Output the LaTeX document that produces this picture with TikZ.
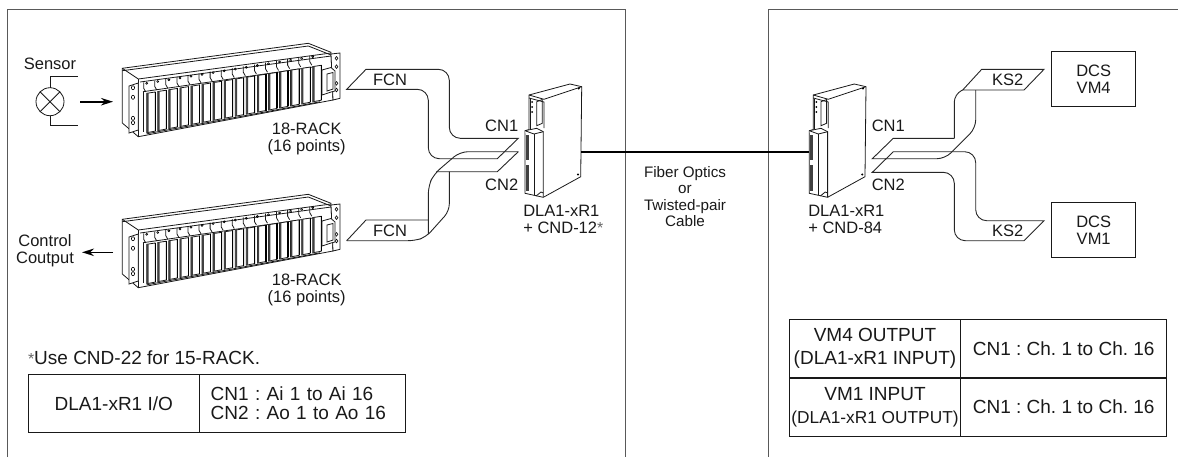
\documentclass[tikz,border=0pt]{standalone}
\usepackage{fontspec}
\usetikzlibrary{arrows.meta}
\setmainfont{Liberation Sans}
\frenchspacing
\newcommand{\labelfont}{\fontsize{16.5}{17}\selectfont}
\newcommand{\tablefont}{\fontsize{19}{18.5}\selectfont}
\newcommand{\starmark}{{\color{black!60}\fontsize{16}{16}\selectfont\raisebox{0.5pt}{*}}}

\begin{document}
\begin{tikzpicture}[
		x=1pt, y=-1pt,
		%Option for nice arrows
		>={Stealth[length=12pt,width=7.5pt]}, %
		inner sep=0pt, outer sep=0pt,%
		frameline/.style={line width=1pt,color=black!65},
		ribbon/.style={line width=0.9pt,color=black!85},
		flow/.style={line width=1.6pt,->},
		thinline/.style={line width=0.8pt,color=black!90},
		txt/.style={font=\labelfont,color=black!90,align=center},
		cell/.style={draw,line width=1pt,color=black!90,text=black!90,font=\tablefont,align=center},
		rack/.pic={
			% Chassis
			\draw[thinline,fill=white] (122.3,68.3) -- (308.3,43.3) -- (331,52.3) -- (333,100) -- (138.3,136.7) -- (122.3,123) -- cycle;
			\draw[thinline] (122.3,70.7) -- (308.3,46) -- (331,55);
			\draw[thinline] (122.3,68.3) -- (138.3,79) -- (331,53);
			\draw[thinline] (140,82) -- (331,56);
			\draw[thinline] (143,91.7) -- (320,66);
			\draw[thinline] (138.3,79) -- (138.3,136.7);
			\draw[thinline] (146.7,133.8) -- (320,101.8);
			% Ears
			\draw[thinline,fill=white] (129,86) -- (138.3,83) -- (138.3,130) -- (129,133) -- cycle;
			\draw[thinline,fill=white] (331,54) -- (340,53) -- (340,98.3) -- (333,100) -- cycle;
			\foreach \holey in {87.7,97.3,118.3,122.7}
				\draw[line width=0.6pt] (133,\holey) ellipse (1.6 and 2);
			\foreach \holey in {58.3,66.7,83.3,90}
				\draw[line width=0.6pt] (336.5,\holey) ellipse (1.4 and 1.8);
			% Cards
			\foreach \i in {0,...,15} {
				\pgfmathsetmacro{\cx}{146.7+11.07*\i}
				\pgfmathsetmacro{\ct}{93.3-1.78*\i}
				\pgfmathsetmacro{\cb}{132.7-2.06*\i}
				\draw[thinline,fill=white] (\cx,\ct) -- ++(8.5,-1.3) -- (\cx+8.5,\cb-1.6) -- (\cx,\cb) -- cycle;
				\fill[black!75] (\cx,\ct) -- ++(1.8,-0.3) -- (\cx+1.8,\cb-0.4) -- (\cx,\cb) -- cycle;
				\draw[line width=1.2pt] (\cx+8.5,\ct-1.3) -- (\cx+8.5,\cb-1.6);
				\draw[thinline] (\cx-3,\ct-11) -- (\cx-3,\ct-5) -- (\cx-1,\ct-1.5);
				\draw[line width=0.6pt] (\cx,\ct-10) circle (1);
			}
			\draw[thinline] (143,91.7) -- (143,132);
			% Plug
			\draw[thinline,fill=white] (322,70) -- (331,67.5) -- (335,71) -- (335,91) -- (331,92) -- (322,95) -- cycle;
			\draw[thinline] (327,74) -- (333,72.5) -- (333,89) -- (327,91) -- cycle;
		},
		dla/.pic={
			% Body
			\draw[thinline,fill=white] (529,95) -- (570,84) -- (581.7,86.7) -- (580.7,176.7) -- (543.3,197.3) -- (525,193.3) -- (525,130.7) -- (529,129.7) -- cycle;
			\draw[thinline] (529,95) -- (544,99.3) -- (581.7,86.7);
			\draw[thinline] (529,98) -- (544,102) -- (544,128);
			\draw[thinline] (530,99) -- (530,129);
			% Window and leds
			\draw[thinline] (536.7,101.7) -- (542.3,99.5) -- (542.3,123.3) -- (536.7,125.7) -- cycle;
			\fill (532,102) circle (1) (532,107) circle (1) (532,112) circle (1);
			% Lower block
			\draw[thinline,fill=white] (525,130.7) -- (536.7,128.3) -- (543.3,131.7) -- (543.3,197.3);
			\draw[thinline] (525,130.7) -- (534,134) -- (543.3,131.7);
			\draw[thinline] (534,134) -- (534,195);
			\fill[black!75] (526,135) rectangle (528.5,160);
			\fill[black!75] (526,165) rectangle (528.5,191);
			\draw[thinline] (536,196) -- (541,192) -- (543.3,193);
			\fill (578.7,88.5) circle (1.1) (578,174.5) circle (1.1);
		},
	]
		\useasboundingbox (0,0) rectangle (1178,459);

		% Frames
		\draw[frameline] (7,457) -- (7,9) -- (625,9) -- (625,457);
		\draw[frameline] (1178,9) -- (768,9) -- (768,457);

		% Racks
		\pic at (0,0) {rack};
		\pic at (0,151) {rack};
		\node[txt] (rackA) at (306.7,138.8) {18-RACK\\(16 points)};
		\node[txt] (rackB) at (306.7,289.8) {18-RACK\\(16 points)};

		% Sensor
		\node[txt] (sensorlabel) at (50,64) {Sensor};
		\node[circle,draw,thinline,minimum size=28pt] (sensor) at (50,101.7) {};
		\draw[thinline] (sensor.north east) -- (sensor.south west);
		\draw[thinline] (sensor.north west) -- (sensor.south east);
		\draw[thinline] (sensor.north) -- (50,76.7) -- (77.7,76.7);
		\draw[thinline] (sensor.south) -- (50,125) -- (77.7,125);
		\coordinate (inA) at (80,101.7);
		\coordinate (inB) at (113,101.7);
		\draw[flow] (inA) -- (inB);

		% Output
		\node[txt] (outlabel) at (45,250.5) {Control\\Coutput};
		\coordinate (outA) at (113,252.3);
		\coordinate (outB) at (82,252.3);
		\draw[flow] (outA) -- (outB);

		% Left ribbons
		\draw[ribbon] (346.7,89.3) -- (366,69.3) [rounded corners=11pt] -- (449.3,69.3) -- (449.3,138.3) [sharp corners] -- (518.3,138.3) -- (497.3,158.7) [rounded corners=11pt] -- (428.3,158.7) -- (428.3,89.3) [sharp corners] -- cycle;
		\draw[ribbon] (346.7,240.7) -- (366,220) -- (428.3,220);
		\draw[ribbon] (518.3,151.7) [rounded corners=8pt] -- (460,151.7) -- (434,174) -- (428.3,186) [sharp corners] -- (428.3,234);
		\draw[ribbon] (518.3,151.7) -- (497.3,171.7) -- (436,171.7);
		\draw[ribbon] (449.3,171.7) [rounded corners=7pt] -- (449.3,211) -- (426,237) -- (415,240.7) [sharp corners] -- (346.7,240.7);
		\node[txt] (fcnA) at (390,80) {FCN};
		\node[txt] (fcnB) at (390,230.7) {FCN};
		\node[txt] (cnA) at (501.7,126) {CN1};
		\node[txt] (cnB) at (501.7,185) {CN2};

		% Right ribbons
		\draw[ribbon] (1024,90) -- (1044,69.3) -- (981.7,69.3) -- (962.7,90) -- cycle;
		\draw[ribbon] (981.7,69.3) (962.7,90) [rounded corners=8pt] -- (954.3,94) -- (954.3,138.3);
		\draw[ribbon] (954.3,138.3) -- (893.3,138.3) -- (872.3,158.7) [rounded corners=8pt] -- (945,158.7) -- (975.7,128) [sharp corners] -- (975.7,90);
		\draw[ribbon] (872.3,172.3) -- (893.3,151.7) [rounded corners=11pt] -- (975.7,151.7) -- (975.7,220.7) [sharp corners] -- (1044,220.7) -- (1024,240.7) [rounded corners=11pt] -- (954.3,240.7) -- (954.3,172.3) [sharp corners] -- cycle;
		\node[txt] (ksA) at (1007.7,80) {KS2};
		\node[txt] (ksB) at (1007.7,231) {KS2};
		\node[txt] (cnC) at (888.3,126) {CN1};
		\node[txt] (cnD) at (888.3,185) {CN2};

		% Converters
		\pic at (0,0) {dla};
		\pic at (284.3,0) {dla};
		\coordinate (fiberA) at (581,151.7);
		\coordinate (fiberB) at (809.3,151.7);
		\draw[line width=2pt] (fiberA) -- (fiberB);
		\node[txt,anchor=west,align=left] (dlaA) at (523.3,219.5) {DLA1-xR1\\+ CND-12\starmark};
		\node[txt,anchor=west,align=left] (dlaB) at (808.3,219.5) {DLA1-xR1\\+ CND-84};
		\node[txt,font=\fontsize{15.2}{16.3}\selectfont] (fiberlabel) at (685,196.5) {Fiber Optics\\or\\Twisted-pair\\Cable};

		% DCS
		\node[cell,font=\labelfont,minimum width=84pt,minimum height=55pt] (dcsA) at (1093.7,79.2) {DCS\\VM4};
		\node[cell,font=\labelfont,minimum width=84pt,minimum height=55pt] (dcsB) at (1093.7,230.2) {DCS\\VM1};

		% Tables
		\node[txt,font=\tablefont,anchor=west] (note) at (28,358) {\starmark Use CND-22 for 15-RACK.};
		\node[cell,minimum width=171pt,minimum height=58pt] (ioA) at (113.8,403.3) {DLA1-xR1 I/O};
		\node[cell,minimum height=58pt,align=left,inner xsep=11.4pt,text width=183.6pt] (ioB) at (302.5,403.3) {CN1 : Ai 1 to Ai 16\\CN2 : Ao 1 to Ao 16};
		\node[cell,minimum width=171.4pt,minimum height=58.7pt,font=\fontsize{19}{23}\selectfont] (vmA) at (875,348.6) {VM4 OUTPUT\\(DLA1-xR1 INPUT)};
		\node[cell,minimum width=206pt,minimum height=58.7pt] (chA) at (1063.7,348.6) {CN1 : Ch. 1 to Ch. 16};
		\node[cell,minimum width=171.4pt,minimum height=58pt,font=\fontsize{19}{23}\selectfont] (vmB) at (875,407) {VM1 INPUT\\{\fontsize{17.3}{23}\selectfont (DLA1-xR1 OUTPUT)}};
		\node[cell,minimum width=206pt,minimum height=58pt] (chB) at (1063.7,407) {CN1 : Ch. 1 to Ch. 16};
	\end{tikzpicture}
\end{document}
